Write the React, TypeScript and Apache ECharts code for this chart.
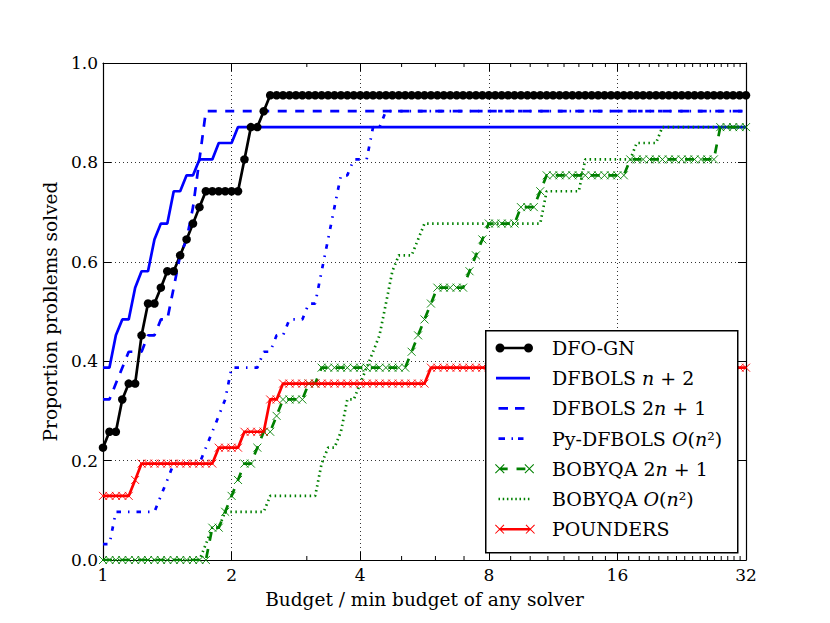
import React, { useEffect, useRef } from "react";
import * as echarts from "echarts";

// Sample grid of budget ratios (x values of every plotted point)
const TAU = [
  1, 1.0353, 1.0718, 1.1096, 1.1487, 1.1892, 1.2311, 1.2746, 1.3195, 1.366,
  1.4142, 1.4641, 1.5157, 1.5692, 1.6245, 1.6818, 1.7411, 1.8025, 1.8661, 1.9319,
  2, 2.0705, 2.1435, 2.2191, 2.2974, 2.3784, 2.4623, 2.5491, 2.639, 2.7321,
  2.8284, 2.9282, 3.0314, 3.1383, 3.249, 3.3636, 3.4822, 3.605, 3.7321, 3.8637,
  4, 4.1411, 4.2871, 4.4383, 4.5948, 4.7568, 4.9246, 5.0982, 5.278, 5.4642,
  5.6569, 5.8563, 6.0629, 6.2767, 6.498, 6.7272, 6.9644, 7.21, 7.4643, 7.7275,
  8, 8.2821, 8.5742, 8.8766, 9.1896, 9.5137, 9.8492, 10.1965, 10.5561, 10.9283,
  11.3137, 11.7127, 12.1257, 12.5533, 12.996, 13.4543, 13.9288, 14.42, 14.9285, 15.455,
  16, 16.5642, 17.1484, 17.7531, 18.3792, 19.0273, 19.6983, 20.393, 21.1121, 21.8566,
  22.6274, 23.4253, 24.2515, 25.1067, 25.9921, 26.9087, 27.8576, 28.84, 29.8571, 30.9099,
  32,
];

const DFO_GN = [
  0.226, 0.258, 0.258, 0.323, 0.355, 0.355, 0.452, 0.516, 0.516, 0.548,
  0.581, 0.581, 0.613, 0.645, 0.677, 0.71, 0.742, 0.742, 0.742, 0.742,
  0.742, 0.742, 0.806, 0.871, 0.871, 0.903, 0.935, 0.935, 0.935, 0.935,
  0.935, 0.935, 0.935, 0.935, 0.935, 0.935, 0.935, 0.935, 0.935, 0.935,
  0.935, 0.935, 0.935, 0.935, 0.935, 0.935, 0.935, 0.935, 0.935, 0.935,
  0.935, 0.935, 0.935, 0.935, 0.935, 0.935, 0.935, 0.935, 0.935, 0.935,
  0.935, 0.935, 0.935, 0.935, 0.935, 0.935, 0.935, 0.935, 0.935, 0.935,
  0.935, 0.935, 0.935, 0.935, 0.935, 0.935, 0.935, 0.935, 0.935, 0.935,
  0.935, 0.935, 0.935, 0.935, 0.935, 0.935, 0.935, 0.935, 0.935, 0.935,
  0.935, 0.935, 0.935, 0.935, 0.935, 0.935, 0.935, 0.935, 0.935, 0.935,
  0.935,
];

const DFBOLS_N2 = [
  0.387, 0.387, 0.452, 0.484, 0.484, 0.548, 0.581, 0.581, 0.645, 0.677,
  0.677, 0.742, 0.742, 0.774, 0.774, 0.806, 0.806, 0.806, 0.839, 0.839,
  0.839, 0.871, 0.871, 0.871, 0.871, 0.871, 0.871, 0.871, 0.871, 0.871,
  0.871, 0.871, 0.871, 0.871, 0.871, 0.871, 0.871, 0.871, 0.871, 0.871,
  0.871, 0.871, 0.871, 0.871, 0.871, 0.871, 0.871, 0.871, 0.871, 0.871,
  0.871, 0.871, 0.871, 0.871, 0.871, 0.871, 0.871, 0.871, 0.871, 0.871,
  0.871, 0.871, 0.871, 0.871, 0.871, 0.871, 0.871, 0.871, 0.871, 0.871,
  0.871, 0.871, 0.871, 0.871, 0.871, 0.871, 0.871, 0.871, 0.871, 0.871,
  0.871, 0.871, 0.871, 0.871, 0.871, 0.871, 0.871, 0.871, 0.871, 0.871,
  0.871, 0.871, 0.871, 0.871, 0.871, 0.871, 0.871, 0.871, 0.871, 0.871,
  0.871,
];

const DFBOLS_2N1 = [
  0.323, 0.323, 0.355, 0.387, 0.419, 0.419, 0.419, 0.452, 0.452, 0.484,
  0.484, 0.548, 0.613, 0.645, 0.71, 0.806, 0.903, 0.903, 0.903, 0.903,
  0.903, 0.903, 0.903, 0.903, 0.903, 0.903, 0.903, 0.903, 0.903, 0.903,
  0.903, 0.903, 0.903, 0.903, 0.903, 0.903, 0.903, 0.903, 0.903, 0.903,
  0.903, 0.903, 0.903, 0.903, 0.903, 0.903, 0.903, 0.903, 0.903, 0.903,
  0.903, 0.903, 0.903, 0.903, 0.903, 0.903, 0.903, 0.903, 0.903, 0.903,
  0.903, 0.903, 0.903, 0.903, 0.903, 0.903, 0.903, 0.903, 0.903, 0.903,
  0.903, 0.903, 0.903, 0.903, 0.903, 0.903, 0.903, 0.903, 0.903, 0.903,
  0.903, 0.903, 0.903, 0.903, 0.903, 0.903, 0.903, 0.903, 0.903, 0.903,
  0.903, 0.903, 0.903, 0.903, 0.903, 0.903, 0.903, 0.903, 0.903, 0.903,
  0.903,
];

const PY_DFBOLS = [
  0.032, 0.032, 0.097, 0.097, 0.097, 0.097, 0.097, 0.097, 0.097, 0.129,
  0.161, 0.194, 0.194, 0.194, 0.194, 0.194, 0.226, 0.258, 0.29, 0.323,
  0.387, 0.387, 0.387, 0.387, 0.387, 0.419, 0.419, 0.452, 0.452, 0.484,
  0.484, 0.484, 0.516, 0.516, 0.581, 0.645, 0.71, 0.774, 0.774, 0.806,
  0.806, 0.806, 0.871, 0.871, 0.903, 0.903, 0.903, 0.903, 0.903, 0.903,
  0.903, 0.903, 0.903, 0.903, 0.903, 0.903, 0.903, 0.903, 0.903, 0.903,
  0.903, 0.903, 0.903, 0.903, 0.903, 0.903, 0.903, 0.903, 0.903, 0.903,
  0.903, 0.903, 0.903, 0.903, 0.903, 0.903, 0.903, 0.903, 0.903, 0.903,
  0.903, 0.903, 0.903, 0.903, 0.903, 0.903, 0.903, 0.903, 0.903, 0.903,
  0.903, 0.903, 0.903, 0.903, 0.903, 0.903, 0.903, 0.903, 0.903, 0.903,
  0.903,
];

const BOBYQA_2N1 = [
  0, 0, 0, 0, 0, 0, 0, 0, 0, 0,
  0, 0, 0, 0, 0, 0, 0, 0.065, 0.065, 0.097,
  0.129, 0.161, 0.194, 0.194, 0.226, 0.258, 0.258, 0.29, 0.323, 0.323,
  0.323, 0.323, 0.355, 0.355, 0.387, 0.387, 0.387, 0.387, 0.387, 0.387,
  0.387, 0.387, 0.387, 0.387, 0.387, 0.387, 0.387, 0.387, 0.419, 0.452,
  0.484, 0.516, 0.548, 0.548, 0.548, 0.548, 0.548, 0.581, 0.613, 0.645,
  0.677, 0.677, 0.677, 0.677, 0.677, 0.71, 0.71, 0.71, 0.742, 0.774,
  0.774, 0.774, 0.774, 0.774, 0.774, 0.774, 0.774, 0.774, 0.774, 0.774,
  0.774, 0.774, 0.806, 0.806, 0.806, 0.806, 0.806, 0.806, 0.806, 0.806,
  0.806, 0.806, 0.806, 0.806, 0.806, 0.806, 0.871, 0.871, 0.871, 0.871,
  0.871,
];

const BOBYQA_ON2 = [
  0, 0, 0, 0, 0, 0, 0, 0, 0, 0,
  0, 0, 0, 0, 0, 0, 0.032, 0.065, 0.065, 0.097,
  0.097, 0.097, 0.097, 0.097, 0.097, 0.097, 0.129, 0.129, 0.129, 0.129,
  0.129, 0.129, 0.129, 0.129, 0.194, 0.226, 0.226, 0.258, 0.323, 0.323,
  0.355, 0.387, 0.419, 0.452, 0.516, 0.581, 0.613, 0.613, 0.613, 0.645,
  0.677, 0.677, 0.677, 0.677, 0.677, 0.677, 0.677, 0.677, 0.677, 0.677,
  0.677, 0.677, 0.677, 0.677, 0.677, 0.677, 0.677, 0.677, 0.677, 0.742,
  0.742, 0.742, 0.742, 0.742, 0.742, 0.806, 0.806, 0.806, 0.806, 0.806,
  0.806, 0.806, 0.806, 0.839, 0.839, 0.839, 0.839, 0.871, 0.871, 0.871,
  0.871, 0.871, 0.871, 0.871, 0.871, 0.871, 0.871, 0.871, 0.871, 0.871,
  0.871,
];

const POUNDERS = [
  0.129, 0.129, 0.129, 0.129, 0.129, 0.161, 0.194, 0.194, 0.194, 0.194,
  0.194, 0.194, 0.194, 0.194, 0.194, 0.194, 0.194, 0.194, 0.226, 0.226,
  0.226, 0.226, 0.258, 0.258, 0.258, 0.258, 0.323, 0.323, 0.355, 0.355,
  0.355, 0.355, 0.355, 0.355, 0.355, 0.355, 0.355, 0.355, 0.355, 0.355,
  0.355, 0.355, 0.355, 0.355, 0.355, 0.355, 0.355, 0.355, 0.355, 0.355,
  0.355, 0.387, 0.387, 0.387, 0.387, 0.387, 0.387, 0.387, 0.387, 0.387,
  0.387, 0.387, 0.387, 0.387, 0.387, 0.387, 0.387, 0.387, 0.387, 0.387,
  0.387, 0.387, 0.387, 0.387, 0.387, 0.387, 0.387, 0.387, 0.387, 0.387,
  0.387, 0.387, 0.387, 0.387, 0.387, 0.387, 0.387, 0.387, 0.387, 0.387,
  0.387, 0.387, 0.387, 0.387, 0.387, 0.387, 0.387, 0.387, 0.387, 0.387,
  0.387,
];

const SERIES_NAMES = [
  "DFO-GN",
  "DFBOLS n+2",
  "DFBOLS 2n+1",
  "Py-DFBOLS O(n^2)",
  "BOBYQA 2n+1",
  "BOBYQA O(n^2)",
  "POUNDERS",
];

const LEGEND_LABELS: Record<string, string> = {
  "DFO-GN": "{r|DFO-GN}",
  "DFBOLS n+2": "{r|DFBOLS }{i|n}{r| + 2}",
  "DFBOLS 2n+1": "{r|DFBOLS 2}{i|n}{r| + 1}",
  "Py-DFBOLS O(n^2)": "{r|Py-DFBOLS }{i|O}{r|(}{i|n}{r|²)}",
  "BOBYQA 2n+1": "{r|BOBYQA 2}{i|n}{r| + 1}",
  "BOBYQA O(n^2)": "{r|BOBYQA }{i|O}{r|(}{i|n}{r|²)}",
  POUNDERS: "{r|POUNDERS}",
};

const MINOR_TICKS = [3, 5, 6, 7, 9, 10, 11, 12, 13, 14, 15, 17, 18, 19, 20, 21, 22, 23, 24, 25, 26, 27, 28, 29, 30, 31];

const X_TITLE = "Budget / min budget of any solver";
const Y_TITLE = "Proportion problems solved";

const FONT = "DejaVu Serif";

// ---- legend icon paths (box 52 x 14) ----
const IW = 52;
const IH = 14;
const CY = 7;
const frame = () => `M0 0L0 0Z M${IW} ${IH}L${IW} ${IH}Z`;
const bar = (x1: number, x2: number, t = 2.7) =>
  `M${x1} ${CY - t / 2}L${x2} ${CY - t / 2}L${x2} ${CY + t / 2}L${x1} ${CY + t / 2}Z`;
const dot = (cx: number, r: number) =>
  `M${cx - r} ${CY}A${r} ${r} 0 1 1 ${cx + r} ${CY}A${r} ${r} 0 1 1 ${cx - r} ${CY}Z`;
const cross = (cx: number, s = 9, t = 1.1) => {
  const h = s / 2;
  const d = t / (2 * Math.SQRT2);
  const b1 = `M${cx - h + d} ${CY - h - d}L${cx + h + d} ${CY + h - d}L${cx + h - d} ${CY + h + d}L${cx - h - d} ${CY - h + d}Z`;
  const b2 = `M${cx - h + d} ${CY + h + d}L${cx - h - d} ${CY + h - d}L${cx + h - d} ${CY - h - d}L${cx + h + d} ${CY - h + d}Z`;
  return b1 + " " + b2;
};
const dots = () => {
  let s = "";
  for (let i = 0; i < 8; i++) s += bar(3.5 + 4.2 * i, 5 + 4.2 * i) + " ";
  return s;
};

const ICONS = [
  frame() + bar(5, 33.5) + dot(5, 4.5) + dot(33.5, 4.5),
  frame() + bar(1, 35),
  frame() + bar(3.5, 13) + bar(20, 29.5),
  frame() + bar(3.5, 10) + bar(16.5, 18) + bar(23, 28.5),
  frame() + bar(4, 12) + bar(21, 30) + cross(4) + cross(34),
  frame() + dots(),
  frame() + bar(2.5, 34.5) + cross(2.5) + cross(34.5),
];

const X_SYMBOL = "path://M0 0L10 10M10 0L0 10";

export default function App() {
  const ref = useRef<HTMLDivElement>(null);

  useEffect(() => {
    if (!ref.current) return;
    const chart = echarts.init(ref.current, undefined, { renderer: "svg" });

    const pts = (arr: number[]) => TAU.map((t, i) => [t, arr[i]]);
    const lw = 2.7;

    const lineSeries = [
      {
        name: SERIES_NAMES[0],
        data: pts(DFO_GN),
        color: "#000000",
        lineStyle: { color: "#000000", width: lw, type: "solid" },
        symbol: "circle",
        symbolSize: 8.5,
        itemStyle: { color: "#000000", borderWidth: 0 },
      },
      {
        name: SERIES_NAMES[1],
        data: pts(DFBOLS_N2),
        color: "#0000ff",
        lineStyle: { color: "#0000ff", width: lw, type: "solid" },
        symbol: "none",
      },
      {
        name: SERIES_NAMES[2],
        data: pts(DFBOLS_2N1),
        color: "#0000ff",
        lineStyle: { color: "#0000ff", width: lw, type: [9, 8.5] },
        symbol: "none",
      },
      {
        name: SERIES_NAMES[3],
        data: pts(PY_DFBOLS),
        color: "#0000ff",
        lineStyle: { color: "#0000ff", width: lw, type: [4.5, 7, 1.5, 7] },
        symbol: "none",
      },
      {
        name: SERIES_NAMES[4],
        data: pts(BOBYQA_2N1),
        color: "#008000",
        lineStyle: { color: "#008000", width: lw, type: [9, 8.5] },
        symbol: X_SYMBOL,
        symbolSize: 8,
        itemStyle: { color: "#008000", borderColor: "#008000", borderWidth: 0.9 },
      },
      {
        name: SERIES_NAMES[5],
        data: pts(BOBYQA_ON2),
        color: "#008000",
        lineStyle: { color: "#008000", width: lw, type: [1.5, 3.5] },
        symbol: "none",
      },
      {
        name: SERIES_NAMES[6],
        data: pts(POUNDERS),
        color: "#ff0000",
        lineStyle: { color: "#ff0000", width: lw, type: "solid" },
        symbol: X_SYMBOL,
        symbolSize: 8,
        itemStyle: { color: "#ff0000", borderColor: "#ff0000", borderWidth: 0.9 },
      },
    ].map((s) => ({
      type: "line",
      xAxisIndex: 0,
      yAxisIndex: 0,
      smooth: false,
      showSymbol: s.symbol !== "none",
      z: 2,
      emphasis: { disabled: true },
      ...s,
    }));

    const minorSeries = {
      type: "custom",
      name: "minor ticks",
      coordinateSystem: "cartesian2d",
      xAxisIndex: 0,
      yAxisIndex: 0,
      silent: true,
      clip: false,
      z: 3,
      data: MINOR_TICKS.map((v) => [v, 0]),
      encode: { x: 0, y: 1 },
      renderItem: (params: any, api: any) => {
        const xv = api.value(0);
        const b = api.coord([xv, 0]);
        const t = api.coord([xv, 1]);
        return {
          type: "group",
          children: [
            { type: "line", shape: { x1: b[0], y1: b[1], x2: b[0], y2: b[1] - 4 }, style: { stroke: "#000", lineWidth: 1 } },
            { type: "line", shape: { x1: t[0], y1: t[1], x2: t[0], y2: t[1] + 4 }, style: { stroke: "#000", lineWidth: 1 } },
          ],
        };
      },
    };

    const splitStyle = { show: true, lineStyle: { color: "#000", width: 0.8, type: [1, 3] } };
    const axisLine = { show: true, onZero: false, lineStyle: { color: "#000", width: 1.2 } };
    const tick = { show: true, inside: true, length: 8, lineStyle: { color: "#000", width: 1 } };
    const legendFont = { fontFamily: FONT, fontSize: 19, lineHeight: 20, color: "#000" };

    chart.setOption({
      animation: false,
      backgroundColor: "#ffffff",
      textStyle: { fontFamily: FONT },
      grid: { left: 103, top: 63, width: 643, height: 497, show: false, containLabel: false },
      xAxis: [
        {
          type: "log",
          logBase: 2,
          min: 1,
          max: 32,
          position: "bottom",
          axisLine,
          axisTick: tick,
          axisLabel: { show: true, color: "#000", fontFamily: FONT, fontSize: 17, margin: 6 },
          splitLine: splitStyle,
          minorTick: { show: false },
          name: X_TITLE,
          nameLocation: "middle",
          nameGap: 30,
          nameTextStyle: { color: "#000", fontFamily: FONT, fontSize: 18.5 },
        },
        {
          type: "log",
          logBase: 2,
          min: 1,
          max: 32,
          position: "top",
          axisLine,
          axisTick: tick,
          axisLabel: { show: false },
          splitLine: { show: false },
        },
      ],
      yAxis: [
        {
          type: "value",
          min: 0,
          max: 1,
          interval: 0.2,
          position: "left",
          axisLine,
          axisTick: tick,
          axisLabel: {
            show: true,
            color: "#000",
            fontFamily: FONT,
            fontSize: 17,
            margin: 5,
            formatter: (v: number) => v.toFixed(1),
          },
          splitLine: splitStyle,
          name: Y_TITLE,
          nameLocation: "middle",
          nameRotate: 90,
          nameGap: 40,
          nameTextStyle: { color: "#000", fontFamily: FONT, fontSize: 18.5 },
        },
        {
          type: "value",
          min: 0,
          max: 1,
          interval: 0.2,
          position: "right",
          axisLine,
          axisTick: tick,
          axisLabel: { show: false },
          splitLine: { show: false },
        },
      ],
      legend: {
        show: true,
        orient: "vertical",
        left: 495,
        top: 338,
        padding: 0,
        itemWidth: IW,
        itemHeight: IH,
        itemGap: 10.2,
        selectedMode: false,
        z: 4,
        itemStyle: { borderWidth: 0 },
        textStyle: {
          ...legendFont,
          rich: {
            r: { ...legendFont },
            i: { ...legendFont, fontStyle: "italic" },
          },
        },
        formatter: (name: string) => LEGEND_LABELS[name] || name,
        data: SERIES_NAMES.map((n, i) => ({ name: n, icon: "path://" + ICONS[i] })),
      },
      graphic: [
        {
          type: "rect",
          left: 485,
          top: 330,
          z: 3,
          shape: { width: 252, height: 222 },
          style: { fill: "#ffffff", stroke: "#000000", lineWidth: 1.5 },
          silent: true,
        },
      ],
      series: [...lineSeries, minorSeries],
    });

    return () => chart.dispose();
  }, []);

  return (
    <div
      ref={ref}
      style={{ position: "fixed", left: 0, top: 0, width: 830, height: 623, background: "#ffffff" }}
    />
  );
}
